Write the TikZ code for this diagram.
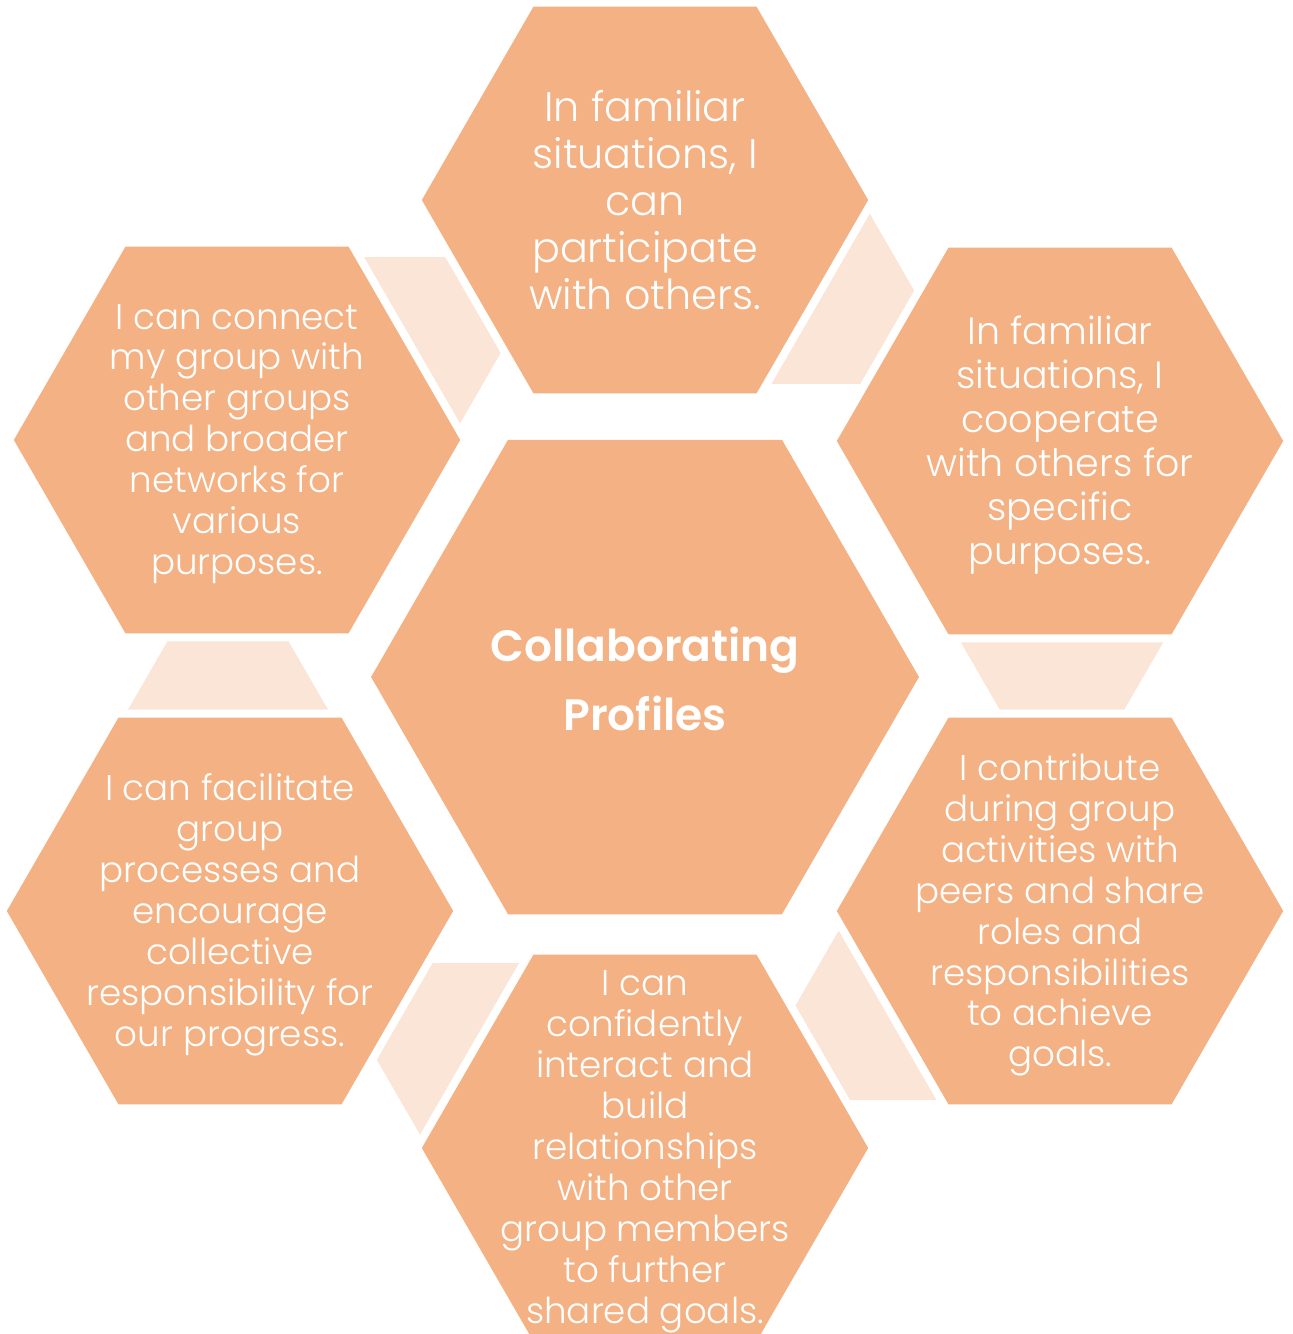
\documentclass[tikz,border=0pt]{standalone}
\usepackage{fontspec}
\setmainfont{Poppins}[UprightFont=* Light, BoldFont=* SemiBold]
\usetikzlibrary{shapes.geometric}

\definecolor{peach}{HTML}{F4B183}
\definecolor{peachlight}{HTML}{FBE5D6}

\tikzset{
	bighex/.style={regular polygon, regular polygon sides=6, minimum size=10.96cm, inner sep=0pt, fill=peach},
	outerhex/.style={regular polygon, regular polygon sides=6, minimum size=9.12cm, inner sep=0pt, fill=peach, draw=white, line width=0.16cm},
	linkhex/.style={regular polygon, regular polygon sides=6, minimum size=4.24cm, inner sep=0pt, fill=peachlight},
	hextext/.style={text=white, align=center, yshift=-0.08cm, font=\fontsize{20.3}{23.3}\selectfont}
}

\begin{document}
\begin{tikzpicture}[x=0.02cm, y=-0.02cm]
	\useasboundingbox (0,0) rectangle (1292,1334);
	\clip (0,0) rectangle (1292,1334);
	% light links, half hidden behind the outer ring
	\node[linkhex] (l1) at (809,292) {};
	\node[linkhex] (l2) at (397,349) {};
	\node[linkhex] (l3) at (228,720) {};
	\node[linkhex] (l4) at (1062,634) {};
	\node[linkhex] (l5) at (480,1055) {};
	\node[linkhex] (l6) at (900,1008) {};
	% centre
	\node[bighex] (centre) at (645,677) {};
	\node[hextext, yshift=0.04cm, font=\bfseries\fontsize{25}{39.8}\selectfont] (centretext) at (centre) {Collaborating\\Profiles};
	% outer ring
	\node[outerhex] (top) at (645,200) {};
	\node[outerhex] (upright) at (1060,441) {};
	\node[outerhex] (lowright) at (1060,911) {};
	\node[outerhex] (bottom) at (645,1148) {};
	\node[outerhex] (lowleft) at (230,911) {};
	\node[outerhex] (upleft) at (237,440) {};
	\node[hextext, yshift=0.08cm, font=\fontsize{23.5}{26.7}\selectfont] (toptext) at (top) {In familiar\\situations, I\\can\\participate\\with others.};
	\node[hextext, font=\fontsize{21.6}{25}\selectfont] (uprighttext) at (upright) {In familiar\\situations, I\\cooperate\\with others for\\specific\\purposes.};
	\node[hextext] (lowrighttext) at (lowright) {I contribute\\during group\\activities with\\peers and share\\roles and\\responsibilities\\to achieve\\goals.};
	\node[hextext] (bottomtext) at (bottom) {I can\\confidently\\interact and\\build\\relationships\\with other\\group members\\to further\\shared goals.};
	\node[hextext] (lowlefttext) at (lowleft) {I can facilitate\\group\\processes and\\encourage\\collective\\responsibility for\\our progress.};
	\node[hextext] (uplefttext) at (upleft) {I can connect\\my group with\\other groups\\and broader\\networks for\\various\\purposes.};
\end{tikzpicture}
\end{document}
